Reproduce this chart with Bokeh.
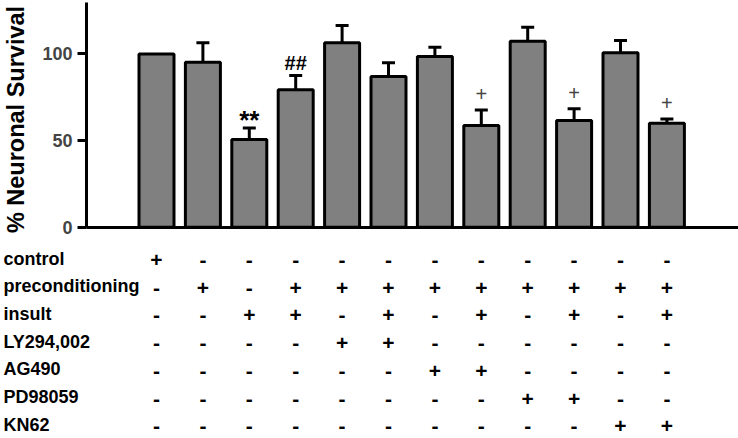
import math
from bokeh.plotting import figure
from bokeh.models import Range1d, FixedTicker, ColumnDataSource, Whisker, TeeHead, LinearAxis
from bokeh.embed import file_html
from bokeh.resources import INLINE
from bokeh.core.properties import value

# ---------------- data ----------------
groups = list(range(1, 13))
survival = [100.0, 95.2, 50.6, 79.3, 106.4, 87.0, 98.5, 58.7, 107.3, 61.6, 100.6, 60.0]
sem = [0.0, 11.2, 6.7, 8.2, 10.0, 7.9, 5.4, 9.0, 8.1, 6.7, 7.1, 2.5]
marks = ["", "", "**", "##", "", "", "", "+", "", "+", "", "+"]

conditions = ["control", "preconditioning", "insult", "LY294,002", "AG490", "PD98059", "KN62"]
control         = ["+", "-", "-", "-", "-", "-", "-", "-", "-", "-", "-", "-"]
preconditioning = ["-", "+", "-", "+", "+", "+", "+", "+", "+", "+", "+", "+"]
insult          = ["-", "-", "+", "+", "-", "+", "-", "+", "-", "+", "-", "+"]
ly294002        = ["-", "-", "-", "-", "+", "+", "-", "-", "-", "-", "-", "-"]
ag490           = ["-", "-", "-", "-", "-", "-", "+", "+", "-", "-", "-", "-"]
pd98059         = ["-", "-", "-", "-", "-", "-", "-", "-", "+", "+", "-", "-"]
kn62            = ["-", "-", "-", "-", "-", "-", "-", "-", "-", "-", "+", "+"]
sign_rows = [control, preconditioning, insult, ly294002, ag490, pd98059, kn62]

y_ticks = [0, 50, 100]
y_title = "% Neuronal Survival"

# ---------------- layout constants (pixels) ----------------
FONT = value("Liberation Sans")
W, H = 738, 438
FIRST_CENTER = 156.0   # px of first bar centre
STEP = 46.4            # px per group
ZERO_PX = 226.7        # px (from top) of survival = 0
PX_PER_UNIT = 1.733    # px per % survival
AXIS_X_PX = 86.0
AXIS_TOP_PX = 2.0
ROW0_PX = 258.0
ROW_STEP_PX = 27.7
SIGN_DROP_PX = 1.5
LABEL_X_PX = 3.0
TITLE_X_PX = 15.0
TITLE_Y_PX = 119.0


def xd(px):
    return 1 + (px - FIRST_CENTER) / STEP


def yd(px):
    return (ZERO_PX - px) / PX_PER_UNIT


p = figure(width=W, height=H, output_backend="svg", toolbar_location=None,
           x_range=Range1d(xd(0), xd(W)), y_range=Range1d(yd(H), yd(0)),
           x_axis_type=None, y_axis_type=None, min_border=0)
p.outline_line_color = None
p.xgrid.visible = False
p.ygrid.visible = False

# ---------------- axes ----------------
ya = LinearAxis(fixed_location=xd(AXIS_X_PX), bounds=(0, yd(AXIS_TOP_PX)),
                ticker=FixedTicker(ticks=y_ticks))
ya.major_label_text_font = "Liberation Sans"
ya.major_label_text_font_style = "bold"
ya.major_label_text_font_size = "18px"
ya.major_label_standoff = 5
ya.axis_line_width = 3
ya.major_tick_line_width = 3
ya.major_tick_out = 9
ya.major_tick_in = 0
ya.minor_tick_line_color = None
p.add_layout(ya, "left")

xa = LinearAxis(fixed_location=0, bounds=(xd(AXIS_X_PX), xd(W)),
                ticker=FixedTicker(ticks=[]))
xa.axis_line_width = 3
xa.major_tick_line_color = None
xa.minor_tick_line_color = None
xa.major_label_text_font_size = "0px"
p.add_layout(xa, "below")

# y-axis title
p.text(x=[xd(TITLE_X_PX)], y=[yd(TITLE_Y_PX)], text=[y_title], angle=math.pi / 2,
       text_align="center", text_baseline="middle", text_font=FONT,
       text_font_style="bold", text_font_size="23.5px", text_color="black")

# ---------------- bars ----------------
p.vbar(x=groups, top=survival, bottom=0, width=35 / STEP,
       fill_color="#808080", line_color="black", line_width=3)

err_x = [g for g, e in zip(groups, sem) if e > 0]
err_lo = [s for s, e in zip(survival, sem) if e > 0]
err_hi = [s + e for s, e in zip(survival, sem) if e > 0]
src = ColumnDataSource(dict(x=err_x, lower=err_lo, upper=err_hi))
wh = Whisker(base="x", lower="lower", upper="upper", source=src, dimension="height",
             line_color="black", line_width=3, lower_head=None,
             upper_head=TeeHead(size=13, line_width=3, line_color="black"))
wh.level = "overlay"
p.add_layout(wh)

# significance marks (gap in px between error cap and text anchor)
mark_gap_px = {"**": 8.0, "##": 13.0, "+": 15.5}
mark_style = {"**": ("bold", "26px", "black"), "##": ("bold", "20px", "black"),
              "+": ("normal", "20px", "#444444")}
for sym in ["**", "##", "+"]:
    xs, ys = [], []
    for g, s, e, m in zip(groups, survival, sem, marks):
        if m == sym:
            xs.append(g)
            ys.append(s + e + mark_gap_px[sym] / PX_PER_UNIT)
    st = mark_style[sym]
    p.text(x=xs, y=ys, text=[sym] * len(xs), text_align="center",
           text_baseline="middle", text_font=FONT, text_font_style=st[0],
           text_font_size=st[1], text_color=st[2])

# ---------------- condition table ----------------
row_px = [ROW0_PX + i * ROW_STEP_PX for i in range(len(conditions))]
p.text(x=[xd(LABEL_X_PX)] * len(conditions), y=[yd(v) for v in row_px],
       text=conditions, text_align="left", text_baseline="middle",
       text_font=FONT, text_font_style="bold", text_font_size="18px", text_color="black")

sx, sy, st = [], [], []
for r, row in enumerate(sign_rows):
    for g, s in zip(groups, row):
        sx.append(g)
        sy.append(yd(row_px[r] + SIGN_DROP_PX))
        st.append(s)
p.text(x=sx, y=sy, text=st, text_align="center", text_baseline="middle",
       text_font=FONT, text_font_style="bold", text_font_size="21px", text_color="black")

open("out.html", "w").write(file_html(p, INLINE))
